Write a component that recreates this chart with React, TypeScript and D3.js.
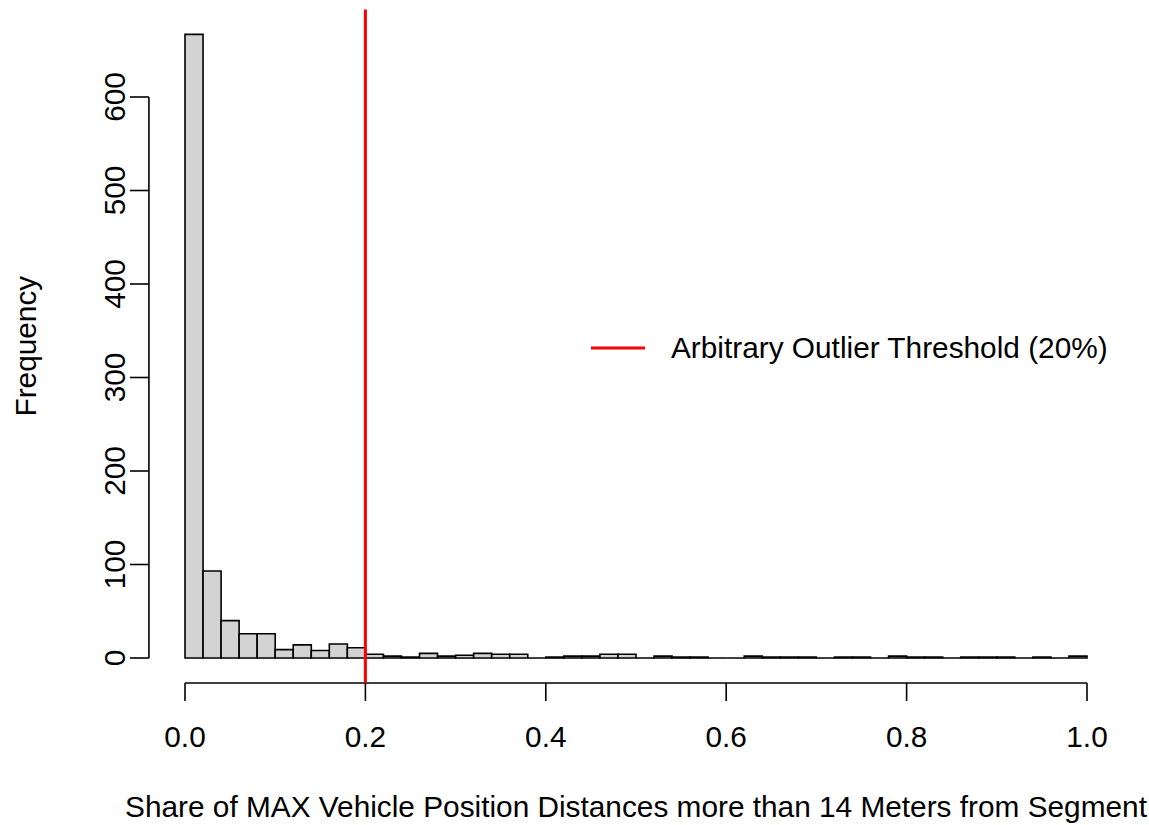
import React from "react";
import * as d3 from "d3";

const binWidth = 0.02;
const counts = [
  667, 93, 40, 26, 26, 9, 14, 8, 15, 11,
  4, 2, 1, 5, 2, 3, 5, 4, 4, 0,
  1, 2, 2, 4, 4, 0, 2, 1, 1, 0,
  0, 2, 1, 1, 1, 0, 1, 1, 0, 2,
  1, 1, 0, 1, 1, 1, 0, 1, 0, 2,
];
const xTicks = [0, 0.2, 0.4, 0.6, 0.8, 1.0];
const yTicks = [0, 100, 200, 300, 400, 500, 600];
const threshold = 0.2;
const xTitle = "Share of MAX Vehicle Position Distances more than 14 Meters from Segment";
const yTitle = "Frequency";
const legendLabel = "Arbitrary Outlier Threshold (20%)";

export default function App() {
  const W = 1149;
  const H = 825;
  const x = d3.scaleLinear().domain([0, 1]).range([185, 1087]);
  const y = d3.scaleLinear().domain([0, 600]).range([658, 97]);
  const xMin = x(-0.04);
  const xMax = x(1.04);
  const yBottom = y(-26.7);
  const yTop = y(693.7);
  const font = "'Liberation Sans', Arial, sans-serif";
  const fs = 29.8;
  const bins = counts.map((c, i) => ({ x0: i * binWidth, x1: (i + 1) * binWidth, c }));
  return (
    <svg
      width={W}
      height={H}
      style={{ position: "absolute", left: 0, top: 0, background: "#fff" }}
      fontFamily={font}
    >
      <rect x={0} y={0} width={W} height={H} fill="#fff" />
      {bins.map((b, i) => {
        const x0 = x(b.x0);
        const x1 = x(b.x1);
        const y0 = y(0);
        const y1 = y(b.c);
        return (
          <path
            key={i}
            d={`M${x0},${y0}H${x1}V${y1}H${x0}Z`}
            fill="#D3D3D3"
            stroke="#000"
            strokeWidth={1.6}
          />
        );
      })}
      {/* x axis */}
      <line x1={x(0)} x2={x(1)} y1={yBottom} y2={yBottom} stroke="#000" strokeWidth={1.6} />
      {xTicks.map((t) => (
        <g key={t}>
          <line x1={x(t)} x2={x(t)} y1={yBottom} y2={yBottom + 18} stroke="#000" strokeWidth={1.6} />
          <text x={x(t)} y={747} textAnchor="middle" fontSize={fs}>
            {t.toFixed(1)}
          </text>
        </g>
      ))}
      {/* y axis */}
      <line x1={xMin} x2={xMin} y1={y(0)} y2={y(600)} stroke="#000" strokeWidth={1.6} />
      {yTicks.map((t) => (
        <g key={t}>
          <line x1={xMin - 19} x2={xMin} y1={y(t)} y2={y(t)} stroke="#000" strokeWidth={1.6} />
          <text
            transform={`translate(${125},${y(t)}) rotate(-90)`}
            textAnchor="middle"
            fontSize={fs}
          >
            {t}
          </text>
        </g>
      ))}
      {/* titles */}
      <text x={(xMin + xMax) / 2} y={817} textAnchor="middle" fontSize={fs}>
        {xTitle}
      </text>
      <text
        transform={`translate(${36},${(yTop + yBottom) / 2}) rotate(-90)`}
        textAnchor="middle"
        fontSize={fs}
      >
        {yTitle}
      </text>
      {/* threshold line */}
      <line x1={x(threshold)} x2={x(threshold)} y1={yTop} y2={yBottom} stroke="#FF0000" strokeWidth={3} />
      {/* legend */}
      <line x1={591} x2={645} y1={348} y2={348} stroke="#FF0000" strokeWidth={3} />
      <text x={671} y={358} fontSize={fs}>
        {legendLabel}
      </text>
    </svg>
  );
}
